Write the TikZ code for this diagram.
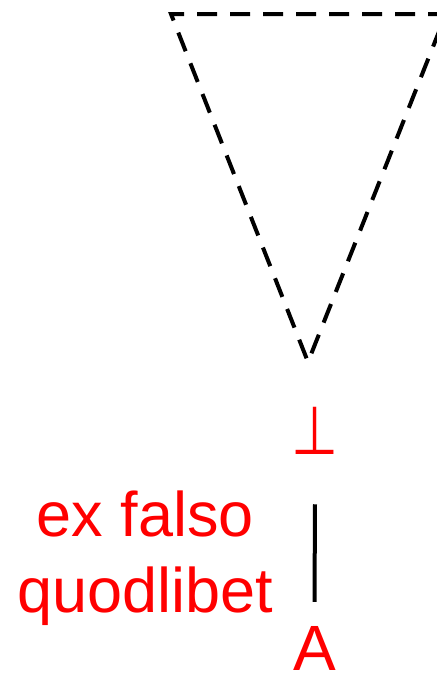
\documentclass[tikz,border=0pt]{standalone}
\usepackage{fontspec}
\setmainfont{Liberation Sans}
\newfontfamily\symfont{DejaVu Sans}
\begin{document}
\begin{tikzpicture}[x=1pt,y=-1pt,
  redtxt/.style={text=red, inner sep=0pt, font=\fontsize{63}{76}\selectfont},
  symtxt/.style={text=red, inner sep=0pt, font=\symfont\fontsize{54}{60}\selectfont},
  tri/.style={draw=black, line width=4pt, dash pattern=on 20pt off 13pt, dash phase=29pt, line join=miter},
  conn/.style={draw=black, line width=4pt}]
\useasboundingbox (0,0) rectangle (437,673);
\clip (0,0) rectangle (437,673);
\coordinate (apex) at (308,362);
\coordinate (tl) at (171,14);
\coordinate (tr) at (446,14);
\draw[tri] (apex) -- (tl) -- (tr) -- cycle;
\node[symtxt, anchor=base, yscale=1.25] (bot) at (315,454) {⊥};
\node[redtxt, anchor=base, font=\fontsize{64}{76}\selectfont] (A) at (314.5,670) {A};
\node[redtxt, anchor=base, align=center] (efq) at (145.5,612) {ex falso\\quodlibet};
\draw[conn] ([yshift=-50pt]bot.south) -- ([yshift=24pt]A.north);
\end{tikzpicture}
\end{document}
